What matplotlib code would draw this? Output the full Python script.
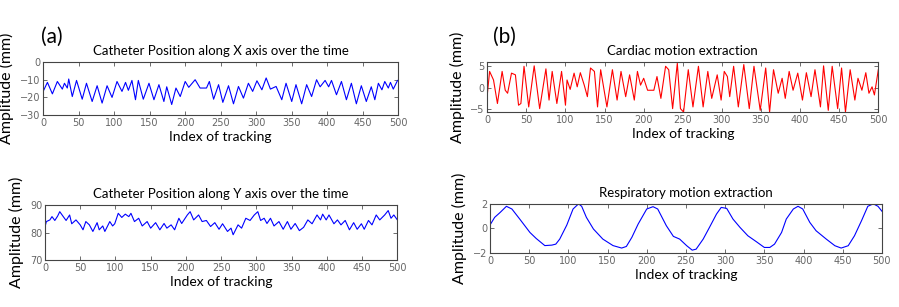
import matplotlib
matplotlib.use("Agg")
from matplotlib import pyplot as plt

# catheter position along X (index, mm) - at peaks/troughs
x_idx = [0, 6, 13, 20, 27, 30, 34, 36, 41, 47, 55, 61, 69, 76, 83, 90, 97, 104, 111, 116,
         120, 125, 130, 134, 141, 149, 156, 163, 170, 174, 181, 187, 193, 200, 205, 214, 221,
         230, 234, 240, 247, 253, 261, 268, 275, 282, 289, 295, 301, 308, 314, 320, 328, 336,
         342, 350, 356, 364, 371, 378, 385, 390, 397, 402, 406, 413, 420, 427, 434, 441, 448,
         455, 462, 467, 472, 477, 481, 486, 489, 493, 499]
x_pos = [-16.6, -11.5, -18, -11, -15.3, -12, -14.7, -9.6, -19.5, -10.4, -21, -12, -22.3, -13.4,
         -23.2, -13.4, -20, -11, -16.6, -11.5, -16, -10.4, -21.3, -10.4, -21, -12, -21.3, -12.8,
         -22.3, -14, -24, -14.7, -19.5, -11, -14.3, -10, -14.7, -14.7, -11, -21, -12.8, -22.8,
         -13.4, -23.6, -13.8, -20.4, -12, -16.6, -10.6, -15.7, -9, -15.3, -13.8, -21.3, -12,
         -22.3, -12.8, -23.6, -12.8, -19.5, -10, -14, -10.4, -14, -10.4, -18.5, -11, -21.3, -12,
         -23.6, -13.4, -22.3, -14, -21.3, -12, -15.7, -11, -14.7, -11.5, -15.3, -10.4]

# catheter position along Y
y_idx = [0, 2, 7, 10, 14, 18, 21, 26, 30, 35, 38, 44, 50, 54, 58, 63, 68, 74, 77, 82, 85, 92,
         96, 99, 104, 109, 114, 119, 122, 127, 133, 138, 145, 150, 157, 163, 169, 173, 179, 184,
         190, 194, 202, 206, 211, 218, 223, 229, 235, 241, 247, 252, 259, 264, 267, 274, 279,
         285, 291, 297, 302, 306, 311, 315, 320, 325, 332, 338, 344, 349, 355, 361, 367, 373,
         379, 386, 391, 394, 399, 403, 410, 415, 420, 426, 432, 438, 443, 449, 453, 459, 464,
         470, 475, 482, 487, 491, 495, 500]
y_pos = [82, 84, 84.6, 85.8, 84.4, 86, 87.6, 85.8, 84.4, 86.4, 83.2, 84.6, 82.8, 81, 84, 82.8,
         80.4, 83.6, 81, 82.4, 80.4, 84, 82.4, 83.2, 87, 85.5, 86.7, 85.8, 87, 84, 85.2, 82.4,
         84, 81.6, 83.6, 81, 83.3, 81.6, 82.8, 81, 85.2, 83.3, 86.4, 87.6, 84.6, 86.4, 84, 84.4,
         82.2, 83.6, 81.2, 83.2, 80.4, 81.6, 79.2, 82.8, 81.6, 85.2, 84.4, 86.4, 87.6, 84.4,
         85.2, 83.3, 85.2, 82.4, 84, 81.2, 84, 81.2, 83.3, 80.7, 81.9, 84.6, 83.2, 86.4, 84.6,
         86.7, 84.6, 86.4, 83.2, 84.6, 82.8, 84.4, 81, 83.6, 81.2, 83.2, 81.2, 84.4, 82.8, 86.4,
         84.6, 86.4, 88, 85.2, 86.4, 84.6]

# cardiac motion
c_idx = [0, 3, 8, 13, 19, 23, 26, 31, 36, 40, 43, 47, 53, 60, 67, 75, 79, 83, 89, 95, 100,
         102, 106, 111, 115, 119, 124, 128, 132, 137, 141, 145, 153, 160, 166, 171, 177, 182,
         188, 192, 196, 200, 205, 213, 217, 222, 228, 232, 237, 243, 247, 251, 257, 263, 270,
         276, 282, 287, 294, 299, 303, 307, 310, 315, 321, 328, 335, 341, 349, 356, 361, 366,
         372, 377, 381, 386, 391, 397, 403, 408, 414, 419, 426, 430, 436, 441, 448, 453, 458,
         464, 470, 474, 479, 484, 488, 492, 495, 500]
c_val = [-1.7, 3.8, 1.8, -3.7, 3.8, -0.6, -1.3, 3.4, 3, -4.1, -3.7, 5, -4.5, 5.1, -4.9, 4.4,
         -2.9, 3.8, -3.7, 3.8, -4.1, 1.8, -0.4, 3.4, 0.2, 3.5, 0.6, -2.1, 4.6, 3.8, -4.5, 4.2,
         -4.5, 4.2, -2.9, 3.8, -2.1, 3, -2.9, 3.8, 0.6, 2.2, -0.6, -0.6, 2.6, -2.5, 5, 4.2, -4.9,
         5.7, -4.9, -5.7, 4.2, -4.5, 5, -4.5, 3.8, -2.5, 3, -2.9, 3.8, 2.6, -2.1, 5, -4.5, 5.4,
         -4.9, 5, -5.3, 4.6, -5.7, 4.2, -1.3, 2.2, -2.5, 3.8, -0.6, 3.4, -2.9, 3.5, -2.1, 4.2,
         -4.5, 5.1, -5.3, 5, -4.9, 4.6, -5.7, 4.2, -2.9, 2.2, -0.6, 3.5, -1.3, 0.2, -1.7, 4.2]

# respiratory motion
r_idx = [0, 6, 13, 21, 28, 38, 51, 59, 70, 79, 84, 89, 98, 106, 113, 117, 123, 132, 144, 157,
         168, 174, 181, 189, 200, 208, 214, 225, 234, 242, 251, 258, 263, 272, 280, 289, 295,
         302, 310, 319, 329, 340, 350, 357, 363, 372, 378, 387, 393, 399, 408, 416, 429, 440,
         448, 457, 465, 474, 482, 489, 495, 500]
r_val = [0.27, 0.9, 1.3, 1.8, 1.58, 0.76, -0.33, -0.82, -1.4, -1.36, -1.28, -0.87, 0.27, 1.58,
         2.0, 1.8, 0.9, -0.05, -0.87, -1.4, -1.6, -1.47, -0.73, 0.35, 1.58, 1.77, 1.58, 0.22,
         -0.65, -0.87, -1.41, -1.77, -1.69, -0.87, 0.08, 1.17, 1.71, 1.63, 0.76, 0.08, -0.6,
         -1.09, -1.55, -1.55, -1.28, -0.33, 0.76, 1.58, 1.8, 1.58, 0.49, -0.19, -0.87, -1.41,
         -1.6, -1.41, -0.6, 0.63, 1.8, 2.0, 1.8, 1.4]

xticks = [0, 50, 100, 150, 200, 250, 300, 350, 400, 450, 500]

panels = [
    # rect, x, y, colour, title, ylim, yticks
    ([0.048, 0.625, 0.395, 0.173], x_idx, x_pos, "blue",
     "Catheter Position along X axis over the time", (-30, 0), [-30, -20, -10, 0]),
    ([0.050, 0.153, 0.392, 0.179], y_idx, y_pos, "blue",
     "Catheter Position along Y axis over the time", (70, 90), [70, 80, 90]),
    ([0.542, 0.635, 0.435, 0.163], c_idx, c_val, "red",
     "Cardiac motion extraction", (-5.7, 6), [-5, 0, 5]),
    ([0.545, 0.176, 0.436, 0.160], r_idx, r_val, "blue",
     "Respiratory motion extraction", (-2, 2), [-2, 0, 2]),
]

fig = plt.figure(figsize=(8.99, 3.07), dpi=100)
txt = ["Lato", "DejaVu Sans"]
for rect, xs, ys, col, title, ylim, yt in panels:
    ax = fig.add_axes(rect)
    ax.plot(xs, ys, color=col, lw=0.8)
    ax.set_xlim(0, 500)
    ax.set_ylim(*ylim)
    ax.set_xticks(xticks)
    ax.set_yticks(yt)
    ax.tick_params(direction="in", length=3, width=0.6, top=True, right=True,
                   labelsize=7, labelcolor="#666666", color="#555555", pad=2)
    for s in ax.spines.values():
        s.set_color("#444444")
        s.set_linewidth(0.8)
    ax.set_title(title, fontsize=9.5, family=txt, pad=5)
    ax.set_xlabel("Index of tracking", fontsize=10, family=txt, labelpad=2)
    ax.set_ylabel("Amplitude (mm)", fontsize=11.5, family=txt, labelpad=4)

fig.text(0.046, 0.86, "(a)", fontsize=15, family=txt)
fig.text(0.548, 0.86, "(b)", fontsize=15, family=txt)

fig.savefig("out.png", dpi=100, facecolor="white")
